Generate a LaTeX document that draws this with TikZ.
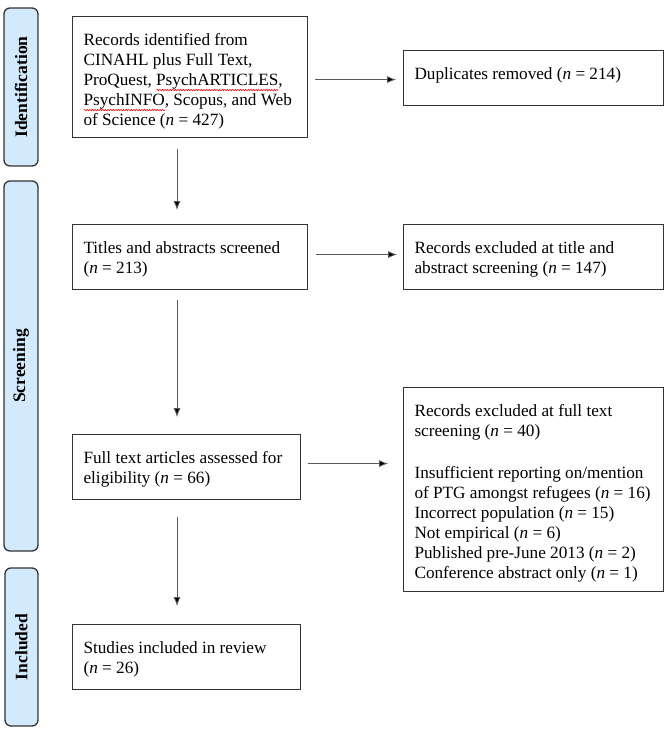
\documentclass[tikz,border=0pt]{standalone}
\usepackage{fontspec}
\setmainfont{Liberation Serif}
\usepackage{xcolor}
\usetikzlibrary{arrows.meta,calc,decorations.pathmorphing}
\newsavebox\wavebox
\newcommand\spellwave[1]{\sbox\wavebox{#1}\leavevmode\rlap{\raisebox{-4.5pt}{\tikz[baseline=0pt]\draw[red,line width=0.6pt,decorate,decoration={snake,amplitude=0.7pt,segment length=2.6pt}] (0pt,0pt) -- (\wd\wavebox,0pt);}}\usebox\wavebox}
\newcommand\bxt[3]{\hspace*{11pt}\parbox[c][#1][t]{#2}{\raggedright\fontsize{17.2}{20}\selectfont\rule{0pt}{29pt}#3}}
\definecolor{sidefill}{HTML}{D2EAFB}
\definecolor{boxline}{HTML}{333333}
\begin{document}
\begin{tikzpicture}[x=1pt,y=-1pt,
  flowbox/.style={draw=boxline,line width=1.1pt,inner sep=0pt,anchor=north west},
  sidebar/.style={draw=boxline,fill=sidefill,line width=1.3pt,rounded corners=6pt},
  sidetext/.style={rotate=90,font=\fontsize{17.5}{19}\selectfont\bfseries},
  arr/.style={draw=black!65,line width=0.8pt,-{Latex[length=9pt,width=7pt,fill=black]}}]
\useasboundingbox (0,0) rectangle (669,732);
% side bars
\draw[sidebar] (4,8) rectangle (38,166);
\node[sidetext] (lid) at (21,87) {Identification};
\draw[sidebar] (4,181) rectangle (38,551);
\node[sidetext] (lscr) at (21,366) {Screening};
\draw[sidebar] (5,568) rectangle (38,726);
\node[sidetext] (linc) at (21.5,647) {Included};
% boxes
\node[flowbox] (b1) at (72,16) {\bxt{121pt}{224pt}{Records identified from\\CINAHL plus Full Text,\\ProQuest, \spellwave{PsychARTICLES},\\\spellwave{PsychINFO}, Scopus, and Web\\of Science (\textit{n} = 427)}};
\node[flowbox] (dup) at (403,50) {\bxt{55pt}{249pt}{Duplicates removed (\textit{n} = 214)}};
\node[flowbox] (tit) at (72,224) {\bxt{65pt}{224pt}{Titles and abstracts screened\\(\textit{n} = 213)}};
\node[flowbox] (exc1) at (403,224) {\bxt{65pt}{249pt}{Records excluded at title and\\abstract screening (\textit{n} = 147)}};
\node[flowbox] (ft) at (72,434) {\bxt{65pt}{217pt}{Full text articles assessed for\\eligibility (\textit{n} = 66)}};
\node[flowbox] (exc2) at (403,387) {\bxt{204pt}{249pt}{Records excluded at full text\\screening (\textit{n} = 40)\\[22pt]Insufficient reporting on/mention\\of PTG amongst refugees (\textit{n} = 16)\\Incorrect population (\textit{n} = 15)\\Not empirical (\textit{n} = 6)\\Published pre-June 2013 (\textit{n} = 2)\\Conference abstract only (\textit{n} = 1)}};
\node[flowbox] (inc) at (72,624) {\bxt{65pt}{217pt}{Studies included in review\\(\textit{n} = 26)}};
% arrows
\draw[arr] ($(b1.east |- dup.west)+(7,1.5)$) -- ($(dup.west)+(-7,1.5)$);
\draw[arr] ($(tit.east)+(8,-2.5)$) -- ($(exc1.west)+(-6,-2.5)$);
\draw[arr] ($(ft.east)+(7,-3.5)$) -- ($(ft.east -| exc2.west)+(-15,-3.5)$);
\draw[arr] ($(b1.south west)+(105,11)$) -- ($(tit.north west)+(105,-14)$);
\draw[arr] ($(tit.south west)+(105,10)$) -- ($(ft.north west)+(105,-17)$);
\draw[arr] ($(ft.south west)+(105,17)$) -- ($(inc.north west)+(105,-18)$);
\end{tikzpicture}
\end{document}
